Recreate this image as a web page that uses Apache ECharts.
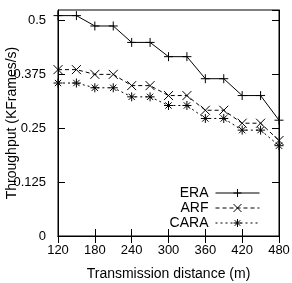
<!DOCTYPE html>
<html>
<head>
<meta charset="utf-8">
<script src="https://cdn.jsdelivr.net/npm/echarts@6/dist/echarts.min.js"></script>
<style>
  html, body { margin: 0; padding: 0; background: #fff; }
  #chart { width: 292px; height: 283px; }
</style>
</head>
<body>
<div id="chart"></div>
<script>
// distances (m) and throughput (KFrames/s)
var distances = [120, 150, 180, 210, 240, 270, 300, 330, 360, 390, 420, 450, 480];
var eraData  = [0.510, 0.510, 0.486, 0.486, 0.448, 0.448, 0.415, 0.415, 0.364, 0.364, 0.325, 0.325, 0.268];
var arfData  = [0.385, 0.385, 0.374, 0.374, 0.348, 0.348, 0.325, 0.325, 0.291, 0.291, 0.261, 0.261, 0.221];
var caraData = [0.354, 0.354, 0.343, 0.343, 0.322, 0.322, 0.302, 0.302, 0.272, 0.272, 0.245, 0.245, 0.209];
var yTicks = [0, 0.125, 0.25, 0.375, 0.5];

var plusSym = 'path://M0,5L10,5M5,0L5,10';
var crossSym = 'path://M0,0L10,10M0,10L10,0';
var starSym = 'path://M0,5L10,5M5,0L5,10M1.5,1.5L8.5,8.5M1.5,8.5L8.5,1.5';
var font = 'Liberation Sans, Arial, sans-serif';

function pairs(vals) {
  return distances.map(function (d, i) { return [d, vals[i]]; });
}

function makeSeries(name, vals, sym, dash) {
  return {
    name: name,
    type: 'line',
    data: pairs(vals),
    symbol: sym,
    symbolSize: 9,
    showAllSymbol: true,
    lineStyle: { color: '#000', width: 1, type: dash },
    itemStyle: { color: 'none', borderColor: '#000', borderWidth: 1 },
    emphasis: { disabled: true },
    animation: false
  };
}

var chart = echarts.init(document.getElementById('chart'));

var tickStyle = { inside: true, length: 7, lineStyle: { color: '#000', width: 1 } };

chart.setOption({
  animation: false,
  textStyle: { fontFamily: font },
  grid: {
    left: 58, right: 13, top: 10, bottom: 47,
    outerBoundsMode: 'none',
    containLabel: false,
    show: true, borderColor: '#000', borderWidth: 1
  },
  legend: {
    orient: 'vertical',
    right: 27,
    top: 181,
    align: 'right',
    itemWidth: 44,
    itemHeight: 10,
    itemGap: 1,
    lineStyle: { width: 1 },
    itemStyle: { borderWidth: 1 },
    textStyle: { fontFamily: font, fontSize: 14, color: '#000', padding: [0, 2, 0, 0] },
    data: ['ERA', 'ARF', 'CARA']
  },
  xAxis: [
    {
      type: 'value',
      min: 120, max: 480, interval: 60,
      name: 'Transmission distance (m)',
      nameLocation: 'middle',
      nameGap: 31,
      nameMoveOverlap: false,
      nameTextStyle: { fontFamily: font, fontSize: 14, color: '#000' },
      axisLine: { lineStyle: { color: '#000' } },
      axisTick: tickStyle,
      axisLabel: { fontFamily: font, fontSize: 13, color: '#000', margin: 8 },
      splitLine: { show: false }
    },
    {
      type: 'value', position: 'top',
      min: 120, max: 480, interval: 60,
      axisLine: { lineStyle: { color: '#000' } },
      axisTick: tickStyle,
      axisLabel: { show: false },
      splitLine: { show: false }
    }
  ],
  yAxis: [
    {
      type: 'value',
      min: 0, max: 0.523, interval: 0.125,
      name: 'Throughput (KFrames/s)',
      nameLocation: 'middle',
      nameGap: 39,
      nameMoveOverlap: false,
      nameTextStyle: { fontFamily: font, fontSize: 14, color: '#000' },
      axisLine: { lineStyle: { color: '#000' } },
      axisTick: tickStyle,
      axisLabel: {
        fontFamily: font, fontSize: 13, color: '#000', margin: 12,
        showMaxLabel: false,
        formatter: function (v) { return yTicks.indexOf(v) >= 0 ? String(v) : ''; }
      },
      splitLine: { show: false }
    },
    {
      type: 'value', position: 'right',
      min: 0, max: 0.523, interval: 0.125,
      axisLine: { lineStyle: { color: '#000' } },
      axisTick: tickStyle,
      axisLabel: { show: false },
      splitLine: { show: false }
    }
  ],
  series: [
    makeSeries('ERA', eraData, plusSym, 'solid'),
    makeSeries('ARF', arfData, crossSym, [4, 3]),
    makeSeries('CARA', caraData, starSym, [2, 3])
  ]
});
</script>
</body>
</html>
